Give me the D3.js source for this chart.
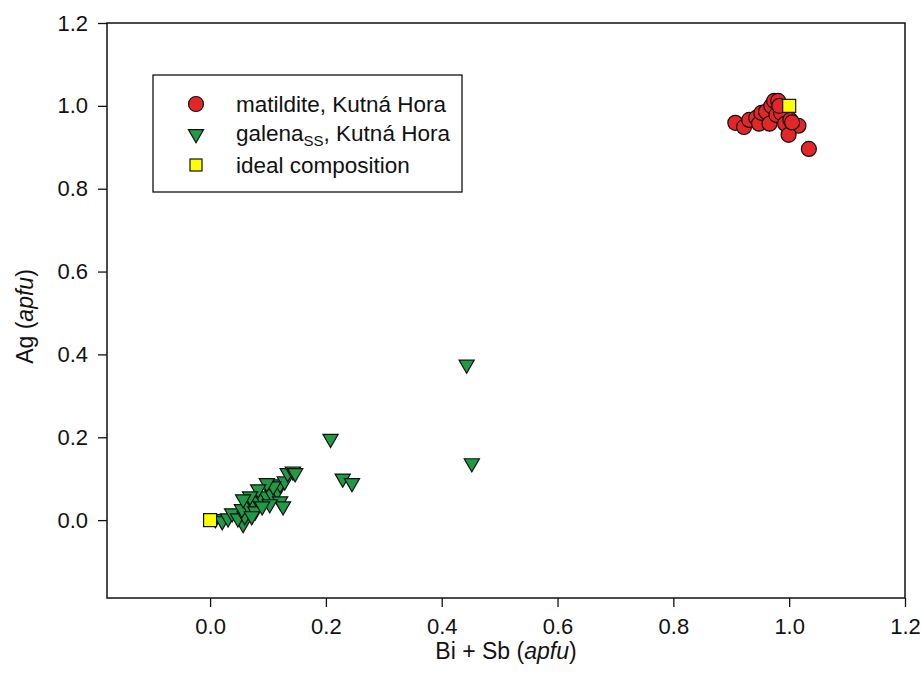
<!DOCTYPE html>
<html>
<head>
<meta charset="utf-8">
<script src="https://cdn.jsdelivr.net/npm/d3@7"></script>
<style>
  body { margin: 0; background: #fff; }
  text { font-family: "Liberation Sans", Arial, sans-serif; fill: #111; }
</style>
</head>
<body>
<div id="chart"></div>
<script>
// matildite, Kutná Hora  [Bi+Sb, Ag]
var matildite = [
  [0.907, 0.959], [0.922, 0.949], [0.931, 0.966], [0.943, 0.971], [0.948, 0.957],
  [0.952, 0.983], [0.960, 0.986], [0.966, 0.957], [0.969, 1.000], [0.974, 1.012],
  [0.981, 1.012], [0.978, 0.978], [0.986, 0.983], [0.993, 0.957], [1.002, 0.966],
  [1.016, 0.952], [0.999, 0.930], [1.034, 0.896], [0.983, 1.000], [1.005, 0.960]
];

// galena ss, Kutná Hora
var galena = [
  [0.009, 0.005], [0.021, 0.000], [0.031, 0.007], [0.038, 0.019], [0.057, -0.007],
  [0.048, 0.007], [0.060, 0.012], [0.055, 0.029], [0.066, 0.036], [0.074, 0.043],
  [0.083, 0.048], [0.090, 0.055], [0.098, 0.060], [0.107, 0.065], [0.116, 0.072],
  [0.121, 0.089], [0.129, 0.096], [0.134, 0.116], [0.143, 0.120], [0.147, 0.116],
  [0.121, 0.048], [0.126, 0.036], [0.103, 0.041], [0.078, 0.024], [0.072, 0.012],
  [0.090, 0.036], [0.109, 0.084], [0.098, 0.092], [0.083, 0.077], [0.069, 0.060],
  [0.057, 0.053],
  [0.208, 0.199], [0.229, 0.103], [0.245, 0.092], [0.443, 0.378], [0.452, 0.140]
];

// ideal composition
var ideal = [[0, 0], [1, 1]];

var xTicks = [0, 0.2, 0.4, 0.6, 0.8, 1.0, 1.2];
var yTicks = [0, 0.2, 0.4, 0.6, 0.8, 1.0, 1.2];

var width = 922, height = 689;
var margin = {left: 107, right: 17, top: 23, bottom: 91};

var svg = d3.select("#chart").append("svg")
  .attr("width", width)
  .attr("height", height);

var x = d3.scaleLinear()
  .domain([-0.178, 1.2])
  .range([margin.left, width - margin.right]);

var y = d3.scaleLinear()
  .domain([-0.188, 1.2])
  .range([height - margin.bottom, margin.top]);

// axes
var xAxis = svg.append("g")
  .attr("transform", "translate(0," + (height - margin.bottom) + ")")
  .call(d3.axisBottom(x).tickValues(xTicks).tickFormat(d3.format(".1f")).tickSize(9).tickPadding(11));

var yAxis = svg.append("g")
  .attr("transform", "translate(" + margin.left + ",0)")
  .call(d3.axisLeft(y).tickValues(yTicks).tickFormat(d3.format(".1f")).tickSize(9).tickPadding(10));

[xAxis, yAxis].forEach(function (g) {
  g.select(".domain").remove();
  g.selectAll("line").attr("stroke", "#111").attr("stroke-width", 1.3);
  g.selectAll("text").style("font-size", "22px").attr("fill", "#111");
});

// frame
svg.append("rect")
  .attr("x", x.range()[0])
  .attr("y", y.range()[1])
  .attr("width", x.range()[1] - x.range()[0])
  .attr("height", y.range()[0] - y.range()[1])
  .attr("fill", "none")
  .attr("stroke", "#111")
  .attr("stroke-width", 1.5);

// axis titles
var xt = svg.append("text")
  .attr("x", (x.range()[0] + x.range()[1]) / 2)
  .attr("y", 659)
  .attr("text-anchor", "middle")
  .style("font-size", "23px");
xt.append("tspan").text("Bi + Sb (");
xt.append("tspan").style("font-style", "italic").text("apfu");
xt.append("tspan").text(")");

var yt = svg.append("text")
  .attr("transform", "translate(33," + ((y.range()[0] + y.range()[1]) / 2 + 6) + ") rotate(-90)")
  .attr("text-anchor", "middle")
  .style("font-size", "23px");
yt.append("tspan").text("Ag (");
yt.append("tspan").style("font-style", "italic").text("apfu");
yt.append("tspan").text(")");

// symbols
var tri = d3.symbol().type(d3.symbolTriangle).size(100);

var plot = svg.append("g");

plot.selectAll(".gal")
  .data(galena)
  .enter().append("path")
  .attr("class", "gal")
  .attr("d", tri)
  .attr("transform", function (d) { return "translate(" + x(d[0]) + "," + (y(d[1]) + 1) + ") rotate(180)"; })
  .attr("fill", "#1f9a46")
  .attr("stroke", "#111")
  .attr("stroke-width", 1.2);

plot.selectAll(".mat")
  .data(matildite)
  .enter().append("circle")
  .attr("class", "mat")
  .attr("cx", function (d) { return x(d[0]); })
  .attr("cy", function (d) { return y(d[1]); })
  .attr("r", 7.5)
  .attr("fill", "#e42629")
  .attr("stroke", "#111")
  .attr("stroke-width", 1.2);

plot.selectAll(".ideal")
  .data(ideal)
  .enter().append("rect")
  .attr("class", "ideal")
  .attr("x", function (d) { return x(d[0]) - 6.5; })
  .attr("y", function (d) { return y(d[1]) - 6.5; })
  .attr("width", 13)
  .attr("height", 13)
  .attr("fill", "#ffff00")
  .attr("stroke", "#111")
  .attr("stroke-width", 1.2);

// legend
var legend = svg.append("g").attr("transform", "translate(153,75)");

legend.append("rect")
  .attr("width", 309)
  .attr("height", 117)
  .attr("fill", "#fff")
  .attr("stroke", "#111")
  .attr("stroke-width", 1.3);

legend.append("circle")
  .attr("cx", 43).attr("cy", 29).attr("r", 7.5)
  .attr("fill", "#e42629").attr("stroke", "#111").attr("stroke-width", 1.2);

legend.append("path")
  .attr("d", tri)
  .attr("transform", "translate(43,59) rotate(180)")
  .attr("fill", "#1f9a46").attr("stroke", "#111").attr("stroke-width", 1.2);

legend.append("rect")
  .attr("x", 37).attr("y", 84).attr("width", 12).attr("height", 12)
  .attr("fill", "#ffff00").attr("stroke", "#111").attr("stroke-width", 1.2);

legend.append("text")
  .attr("x", 83).attr("y", 37)
  .style("font-size", "22.5px")
  .text("matildite, Kutná Hora");

var gl = legend.append("text")
  .attr("x", 83).attr("y", 66)
  .style("font-size", "22.5px");
gl.append("tspan").text("galena");
gl.append("tspan").attr("dy", 5).style("font-size", "15px").text("SS");
gl.append("tspan").attr("dy", -5).text(", Kutná Hora");

legend.append("text")
  .attr("x", 83).attr("y", 98)
  .style("font-size", "22.5px")
  .text("ideal composition");
</script>
</body>
</html>
